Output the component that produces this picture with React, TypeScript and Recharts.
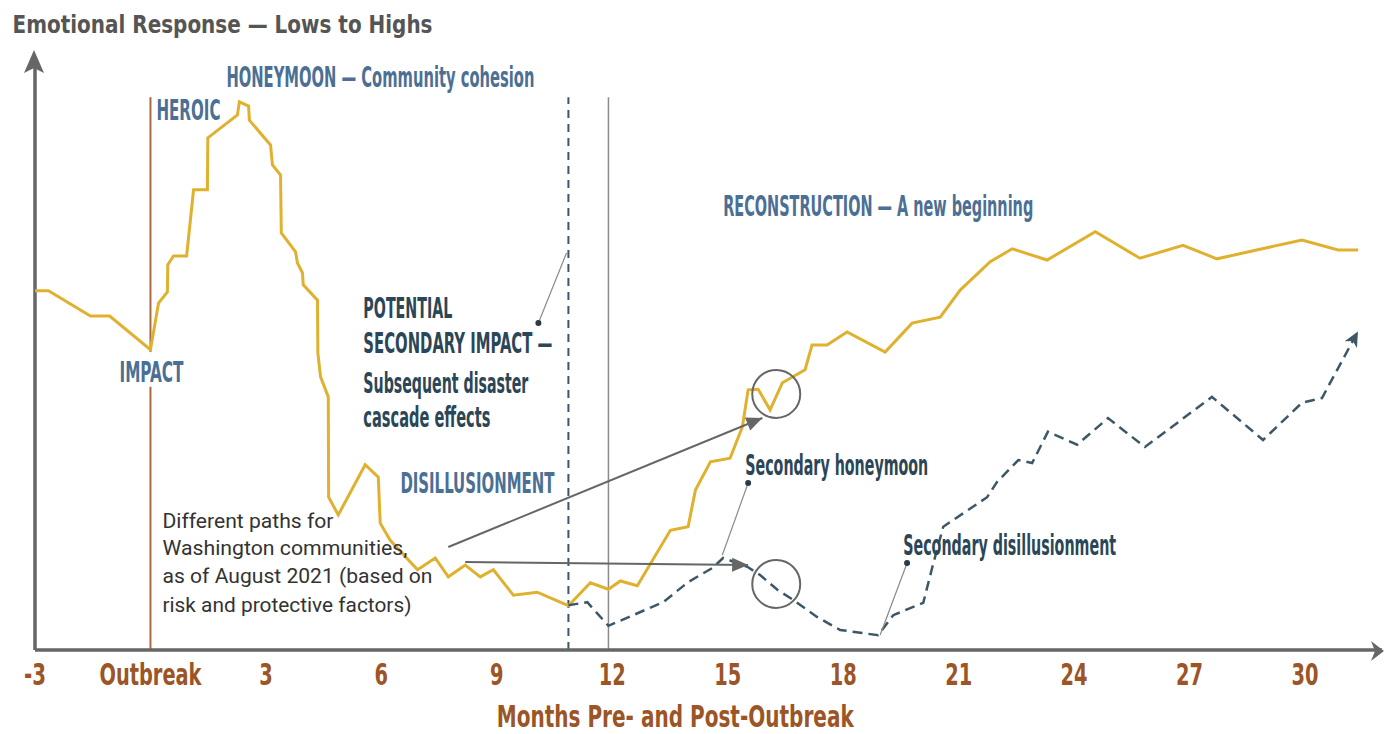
import { LineChart, Line, XAxis, YAxis, ReferenceLine, ReferenceDot } from "recharts";

// months on the x axis, emotional level 0-100 on the y axis
const goldMonths = [
  -3, -2.65, -1.56, -1.06, 0, 0.21, 0.44, 0.45, 0.6, 0.94, 1.12, 1.48, 1.49, 2.26, 2.31, 2.55,
  2.57, 3.12, 3.17, 3.38, 3.4, 3.77, 3.82, 3.95, 3.97, 4.34, 4.35, 4.42, 4.62, 4.63, 4.88, 5.58,
  5.92, 5.97, 6.23, 6.94, 7.4, 7.74, 8.18, 8.57, 8.91, 9.43, 10.05, 10.86, 11.43, 11.9, 12.21,
  12.65, 13.51, 13.97, 14.16, 14.55, 15.06, 15.38, 15.53, 15.79, 16.1, 16.42, 17.01, 17.19,
  17.58, 18.1, 19.09, 19.79, 20.52, 21.04, 21.82, 22.39, 23.3, 24.55, 25.71, 26.83, 27.71,
  29.92, 30.86, 31.38
];
const goldValues = [
  60.9, 60.9, 56.6, 56.6, 50.9, 58.8, 60.7, 65.3, 66.8, 66.8, 78, 78, 86.8, 90.7, 92.9, 92.2,
  89.8, 85.6, 82.2, 80.5, 70.7, 67.5, 65.6, 63.9, 61.9, 59.3, 50.3, 46.3, 42.9, 25.9, 22.9, 31.4,
  29.3, 21.5, 18.6, 13.6, 15.6, 12.4, 14.4, 12.4, 13.6, 9.3, 9.8, 7.5, 11.4, 10.3, 11.7,
  10.9, 20.3, 20.9, 27.1, 31.9, 32.5, 37.8, 44.1, 44.2, 40.7, 45.3, 47.5, 51.7,
  51.7, 53.9, 50.5, 55.4, 56.4, 61, 65.8, 68, 66.1, 70.9, 66.4, 68.6, 66.3,
  69.5, 67.8, 67.8
];
const pathMonths = [
  10.86, 11.35, 11.9, 13.32, 13.97, 14.6, 14.88, 15.51, 15.84, 16.29, 16.7, 17.32, 17.92, 18.91,
  19.3, 20.08, 20.31, 20.6, 21.74, 22, 22.55, 22.91, 23.32, 24.08, 24.88, 25.84, 27.58, 28.91,
  29.92, 30.44, 31.35
];
const pathValues = [
  7.6, 8.1, 4.1, 8.1, 11.5, 13.9, 15.6, 14.1, 12.7, 10.2, 8.5, 5.6, 3.4, 2.5,
  5.9, 8, 13.9, 20.9, 25.9, 28.5, 32.2, 31.7, 37, 34.8, 39.3, 34.4, 42.9, 35.6,
  41.9, 42.7, 53.7
];
const tickMonths = [-3, 0, 3, 6, 9, 12, 15, 18, 21, 24, 27, 30];
const tickLabels = ["-3", "Outbreak", "3", "6", "9", "12", "15", "18", "21", "24", "27", "30"];

const goldData = goldMonths.map((m, i) => ({ m, v: goldValues[i] }));
const pathData = pathMonths.map((m, i) => ({ m, v: pathValues[i] }));

const COND = "'Liberation Sans Narrow', 'DejaVu Sans Condensed', Roboto, sans-serif";
const SANS = "Roboto, 'Liberation Sans', Arial, sans-serif";
const GOLD = "#dfb12f";
const SLATE = "#3d5767";
const BLUE = "#4b6f95";
const DARK = "#2b4656";
const BROWN = "#9b5526";
const AXIS = "#666";

type NoteOpts = { size?: number; color?: string; weight?: number; family?: string; anchor?: "start" | "middle" };

function note(key: string, m: number, v: number, text: string, w: number, o: NoteOpts = {}) {
  return (
    <ReferenceDot
      key={key}
      x={m}
      y={v}
      r={0}
      ifOverflow="visible"
      shape={(p: any) => (
        <text
          x={p.cx}
          y={p.cy}
          fontSize={o.size ?? 29}
          fill={o.color ?? BLUE}
          fontWeight={o.weight ?? 700}
          fontFamily={o.family ?? COND}
          textAnchor={o.anchor ?? "start"}
          textLength={w}
          lengthAdjust="spacingAndGlyphs"
        >
          {text}
        </text>
      )}
    />
  );
}

const arrowShape = (p: any) => {
  const a = (Math.atan2(p.y2 - p.y1, p.x2 - p.x1) * 180) / Math.PI;
  return (
    <g>
      <line x1={p.x1} y1={p.y1} x2={p.x2} y2={p.y2} stroke="#666" strokeWidth={2} />
      <polygon points="0,0 -16,-7 -16,7" fill="#666" transform={`translate(${p.x2},${p.y2}) rotate(${a})`} />
    </g>
  );
};

const pointerShape = (p: any) => (
  <g>
    <line x1={p.x1} y1={p.y1} x2={p.x2} y2={p.y2} stroke="#8a8a8a" strokeWidth={1.2} />
    <circle cx={p.x1} cy={p.y1} r={3} fill="#2b3a44" />
  </g>
);

function TickLabel(props: any) {
  const { x, y, payload } = props;
  const idx = tickMonths.indexOf(payload.value);
  const text = tickLabels[idx] ?? String(payload.value);
  const w = text === "Outbreak" ? 102 : text === "-3" ? 22 : text.length * 13.5;
  return (
    <text
      x={x}
      y={y + 27}
      textAnchor="middle"
      fontFamily={COND}
      fontWeight={700}
      fontSize={31}
      fill={BROWN}
      textLength={w}
      lengthAdjust="spacingAndGlyphs"
    >
      {text}
    </text>
  );
}

export default function App() {
  return (
    <div style={{ position: "absolute", left: 0, top: 0, background: "#fff" }}>
      <LineChart width={1384} height={734} margin={{ top: 60, right: 2, bottom: 0, left: 35 }}>
        <XAxis
          type="number"
          dataKey="m"
          domain={[-3, 32]}
          ticks={tickMonths}
          tickLine={false}
          axisLine={{ stroke: AXIS, strokeWidth: 3.5 }}
          tick={<TickLabel />}
          height={84}
          interval={0}
        />
        <YAxis type="number" dataKey="v" domain={[0, 100]} hide />

        {/* y axis with arrow */}
        <ReferenceLine x={-3} stroke={AXIS} strokeWidth={3.5} ifOverflow="visible" />
        <ReferenceDot
          x={-3}
          y={100}
          r={0}
          ifOverflow="visible"
          shape={(p: any) => (
            <polygon
              points={`${p.cx - 1},${p.cy - 10} ${p.cx - 11},${p.cy + 13} ${p.cx - 1},${p.cy + 8} ${p.cx + 9},${p.cy + 13}`}
              fill={AXIS}
            />
          )}
        />
        <ReferenceDot
          x={32}
          y={0}
          r={0}
          ifOverflow="visible"
          shape={(p: any) => (
            <polygon
              points={`${p.cx + 2},${p.cy + 1} ${p.cx - 11},${p.cy - 9} ${p.cx - 7},${p.cy + 1} ${p.cx - 11},${p.cy + 11}`}
              fill={AXIS}
            />
          )}
        />

        {/* phase lines */}
        <ReferenceLine segment={[{ x: 0, y: 0 }, { x: 0, y: 44.6 }]} stroke="#a8693f" strokeWidth={2} />
        <ReferenceLine segment={[{ x: 0, y: 50.5 }, { x: 0, y: 93.7 }]} stroke="#a8693f" strokeWidth={2} />
        <ReferenceLine segment={[{ x: 10.86, y: 0 }, { x: 10.86, y: 93.7 }]} stroke={SLATE} strokeWidth={2} strokeDasharray="8 6" />
        <ReferenceLine segment={[{ x: 11.9, y: 0 }, { x: 11.9, y: 93.7 }]} stroke="#8a8a8a" strokeWidth={1.5} />

        <Line data={goldData} dataKey="v" type="linear" stroke={GOLD} strokeWidth={3} dot={false} isAnimationActive={false} />
        <Line
          data={pathData}
          dataKey="v"
          type="linear"
          stroke={SLATE}
          strokeWidth={2.5}
          strokeDasharray="10 6"
          dot={false}
          isAnimationActive={false}
        />

        {/* arrowhead on the dashed path */}
        <ReferenceDot
          x={31.35}
          y={53.7}
          r={0}
          ifOverflow="visible"
          shape={(p: any) => (
            <polygon points="2,0 -13,-7 -9,0 -13,7" fill={SLATE} transform={`translate(${p.cx},${p.cy}) rotate(-61.7)`} />
          )}
        />

        {/* circles, arrows and pointers */}
        <ReferenceDot x={16.26} y={43.4} r={24} fill="none" stroke="#666" strokeWidth={2} ifOverflow="visible" />
        <ReferenceDot x={16.26} y={11.2} r={24} fill="none" stroke="#666" strokeWidth={2} ifOverflow="visible" />
        <ReferenceLine segment={[{ x: 7.74, y: 17.46 }, { x: 15.9, y: 39.32 }]} shape={arrowShape} />
        <ReferenceLine segment={[{ x: 8.18, y: 14.92 }, { x: 15.53, y: 14.41 }]} shape={arrowShape} />
        <ReferenceLine segment={[{ x: 10.08, y: 55.42 }, { x: 10.81, y: 67.29 }]} shape={pointerShape} />
        <ReferenceLine segment={[{ x: 15.53, y: 28.31 }, { x: 14.86, y: 16.1 }]} shape={pointerShape} />
        <ReferenceLine segment={[{ x: 19.66, y: 14.75 }, { x: 18.96, y: 2.54 }]} shape={pointerShape} />

        {/* texts */}
        {note("title", -3.584, 104.58, "Emotional Response \u2014 Lows to Highs", 420, { size: 25, color: "#555" })}
        {note("honey", 1.974, 95.42, "HONEYMOON \u2014 Community cohesion", 308)}
        {note("heroic", 0.156, 89.83, "HEROIC", 64)}
        {note("impact", -0.805, 45.42, "IMPACT", 64)}
        {note("pot1", 5.532, 56.27, "POTENTIAL", 89, { color: DARK })}
        {note("pot2", 5.532, 50.34, "SECONDARY IMPACT \u2014", 189, { color: DARK })}
        {note("pot3", 5.532, 43.56, "Subsequent disaster", 165, { color: DARK })}
        {note("pot4", 5.532, 37.8, "cascade effects", 127, { color: DARK })}
        {note("disil", 6.494, 26.61, "DISILLUSIONMENT", 154)}
        {note("recon", 14.883, 73.56, "RECONSTRUCTION \u2014 A new beginning", 310)}
        {note("sechon", 15.455, 29.66, "Secondary honeymoon", 183, { color: DARK })}
        {note("secdis", 19.558, 16.1, "Secondary disillusionment", 213, { color: DARK })}
        {note("p1", 0.312, 20.68, "Different paths for", 171, { size: 21, color: "#333", weight: 400, family: SANS })}
        {note("p2", 0.312, 16.1, "Washington communities,", 245, { size: 21, color: "#333", weight: 400, family: SANS })}
        {note("p3", 0.312, 11.36, "as of August 2021 (based on", 270, { size: 21, color: "#333", weight: 400, family: SANS })}
        {note("p4", 0.312, 6.44, "risk and protective factors)", 249, { size: 21, color: "#333", weight: 400, family: SANS })}
        {note("xlabel", 13.636, -13.05, "Months Pre- and Post-Outbreak", 357, { size: 30, color: BROWN, anchor: "middle" })}
      </LineChart>
    </div>
  );
}
